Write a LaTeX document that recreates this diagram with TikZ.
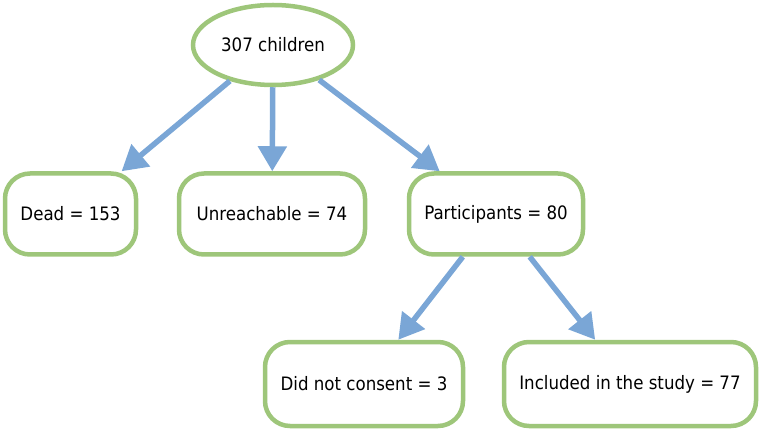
\documentclass[tikz,border=0pt]{standalone}
\usepackage{fontspec}
\setmainfont{DejaVu Sans Condensed}
\usetikzlibrary{arrows.meta,shapes.geometric}
\definecolor{boxgreen}{RGB}{158,198,122}
\definecolor{flowblue}{RGB}{122,166,214}
\begin{document}
\begin{tikzpicture}[x=1pt,y=-1pt,
  box/.style={draw=boxgreen,line width=4.5pt,fill=white,rounded corners=25pt,
    minimum height=81pt,inner sep=0pt,font=\fontsize{18.5}{21}\selectfont},
  rootnode/.style={draw=boxgreen,line width=4.5pt,fill=white,ellipse,
    minimum width=160pt,minimum height=80pt,inner sep=0pt,font=\fontsize{18.5}{21}\selectfont},
  flow/.style={draw=flowblue,line width=5.5pt,-{Triangle[length=25pt,width=28pt]}}]
\useasboundingbox (0,0) rectangle (760,430);
\node[rootnode] (root) at (273,45) {307 children};
\node[box,minimum width=131pt] (dead) at (70.5,214) {Dead = 153};
\node[box,minimum width=186pt] (unreach) at (272,214) {Unreachable = 74};
\node[box,minimum width=174pt] (part) at (496,214) {Participants = 80};
\node[box,minimum width=198pt,minimum height=84pt] (nocons) at (364,384) {Did not consent = 3};
\node[box,minimum width=252pt,minimum height=84pt] (incl) at (630,384) {Included in the study = 77};
\draw[flow] (root) -- (dead);
\draw[flow] (root) -- (unreach);
\draw[flow] (root) -- (part);
\draw[flow] (part) -- (nocons);
\draw[flow] (part) -- (incl);
\end{tikzpicture}
\end{document}
